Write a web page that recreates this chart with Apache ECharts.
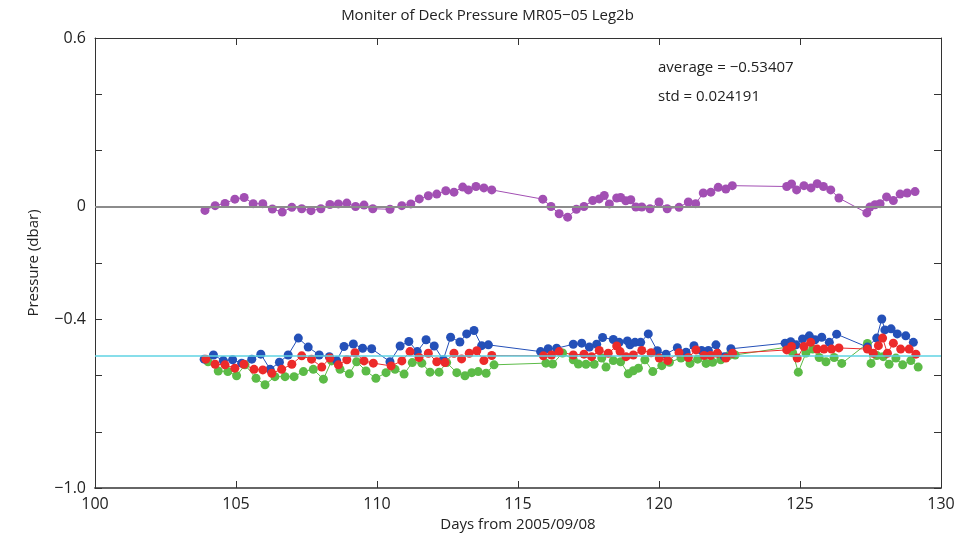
<!DOCTYPE html>
<html>
<head>
<meta charset="utf-8">
<script src="https://cdn.jsdelivr.net/npm/echarts@6/dist/echarts.min.js"></script>
<style>
  html, body { margin: 0; padding: 0; background: #fff; }
  #charts { width: 975px; height: 543px; }
</style>
</head>
<body>
<div id="charts"></div>
<script>
// deck pressure series, days from 2005/09/08
const purpleDays = [103.90,104.26,104.61,104.96,105.29,105.61,105.95,106.29,106.64,106.98,107.33,107.66,108.01,108.33,108.63,108.93,109.24,109.54,109.85,110.46,110.88,111.20,111.50,111.82,112.12,112.44,112.73,113.04,113.24,113.51,113.79,114.07,115.88,116.17,116.46,116.76,117.07,117.34,117.65,117.88,118.06,118.24,118.50,118.64,118.82,119.00,119.18,119.39,119.68,120.00,120.29,120.71,121.04,121.30,121.57,121.84,122.10,122.37,122.60,124.53,124.70,124.88,125.14,125.39,125.61,125.83,126.09,126.38,127.37,127.48,127.66,127.84,128.07,128.31,128.55,128.80,129.08]
const purpleVals = [-0.013,0.004,0.012,0.027,0.033,0.011,0.011,-0.008,-0.019,-0.002,-0.007,-0.014,-0.007,0.008,0.010,0.013,0.001,0.006,-0.007,-0.009,0.004,0.010,0.028,0.039,0.045,0.057,0.052,0.070,0.060,0.072,0.067,0.060,0.027,0.001,-0.025,-0.037,-0.009,0.001,0.022,0.028,0.040,0.010,0.031,0.033,0.021,0.025,-0.001,-0.001,-0.007,0.017,-0.007,-0.002,0.017,0.011,0.049,0.052,0.069,0.063,0.075,0.072,0.081,0.060,0.075,0.067,0.082,0.072,0.060,0.031,-0.022,-0.001,0.007,0.011,0.035,0.022,0.045,0.049,0.054]

const blueDays = [103.87,104.20,104.55,104.88,105.20,105.56,105.88,106.21,106.54,106.85,107.21,107.56,107.95,108.31,108.57,108.83,109.16,109.49,109.81,110.46,110.82,111.13,111.43,111.74,112.03,112.35,112.61,112.94,113.18,113.44,113.71,113.95,115.80,116.07,116.37,116.96,117.26,117.53,117.79,118.00,118.38,118.59,118.88,118.97,119.15,119.35,119.62,119.94,120.25,120.65,120.96,121.24,121.51,121.75,122.02,122.32,122.55,124.47,124.67,124.86,125.09,125.33,125.53,125.77,126.04,126.30,127.39,127.72,127.90,128.01,128.23,128.45,128.75,129.02]
const blueVals = [-0.542,-0.527,-0.547,-0.544,-0.556,-0.542,-0.524,-0.578,-0.553,-0.527,-0.467,-0.499,-0.527,-0.533,-0.547,-0.497,-0.488,-0.503,-0.505,-0.551,-0.495,-0.479,-0.515,-0.473,-0.495,-0.544,-0.464,-0.481,-0.452,-0.440,-0.494,-0.491,-0.515,-0.505,-0.503,-0.489,-0.485,-0.499,-0.489,-0.465,-0.472,-0.482,-0.477,-0.491,-0.482,-0.482,-0.452,-0.512,-0.524,-0.501,-0.517,-0.494,-0.511,-0.511,-0.491,-0.533,-0.505,-0.485,-0.480,-0.491,-0.470,-0.459,-0.473,-0.464,-0.482,-0.453,-0.499,-0.467,-0.399,-0.438,-0.434,-0.452,-0.459,-0.482]

const redDays = [103.93,104.26,104.61,104.96,105.28,105.64,105.95,106.27,106.62,106.98,107.33,107.68,108.04,108.33,108.63,108.93,109.22,109.54,109.87,110.50,110.88,111.17,111.49,111.82,112.12,112.41,112.73,113.00,113.27,113.54,113.79,114.07,115.90,116.19,116.46,116.96,117.34,117.61,117.88,118.20,118.50,118.62,118.83,119.09,119.39,119.72,120.01,120.31,120.71,121.04,121.31,121.60,121.83,122.07,122.37,122.61,124.53,124.70,124.90,125.14,125.38,125.61,125.85,126.12,126.38,127.39,127.60,127.78,127.93,128.10,128.31,128.57,128.87,129.11]
const redVals = [-0.542,-0.560,-0.562,-0.574,-0.560,-0.578,-0.580,-0.592,-0.578,-0.560,-0.530,-0.542,-0.570,-0.538,-0.562,-0.544,-0.519,-0.548,-0.556,-0.566,-0.548,-0.515,-0.536,-0.521,-0.551,-0.554,-0.521,-0.541,-0.521,-0.512,-0.547,-0.529,-0.530,-0.527,-0.515,-0.527,-0.524,-0.533,-0.511,-0.521,-0.495,-0.515,-0.533,-0.527,-0.511,-0.519,-0.538,-0.547,-0.519,-0.536,-0.509,-0.529,-0.529,-0.521,-0.538,-0.521,-0.509,-0.497,-0.538,-0.497,-0.482,-0.506,-0.506,-0.506,-0.502,-0.506,-0.521,-0.494,-0.467,-0.521,-0.485,-0.506,-0.506,-0.524]

const greenDays = [104.01,104.37,104.71,105.02,105.32,105.71,106.03,106.38,106.74,107.06,107.39,107.74,108.10,108.39,108.69,109.02,109.28,109.61,109.96,110.32,110.64,110.96,111.25,111.59,111.88,112.20,112.47,112.83,113.12,113.36,113.59,113.87,114.15,115.99,116.23,116.58,116.96,117.14,117.41,117.70,117.97,118.12,118.38,118.64,118.91,119.09,119.27,119.50,119.78,120.10,120.37,120.78,121.10,121.37,121.67,121.90,122.19,122.46,122.70,124.56,124.74,124.94,125.21,125.45,125.68,125.92,126.21,126.48,127.39,127.52,127.72,127.95,128.16,128.40,128.64,128.93,129.19]
const greenVals = [-0.551,-0.584,-0.586,-0.601,-0.562,-0.610,-0.633,-0.604,-0.604,-0.604,-0.586,-0.578,-0.613,-0.548,-0.578,-0.594,-0.551,-0.584,-0.610,-0.590,-0.578,-0.595,-0.554,-0.556,-0.588,-0.588,-0.554,-0.590,-0.601,-0.590,-0.586,-0.592,-0.562,-0.556,-0.559,-0.520,-0.544,-0.559,-0.560,-0.560,-0.538,-0.570,-0.547,-0.551,-0.594,-0.583,-0.574,-0.544,-0.586,-0.565,-0.553,-0.538,-0.557,-0.542,-0.557,-0.553,-0.544,-0.530,-0.527,-0.499,-0.519,-0.588,-0.520,-0.506,-0.536,-0.551,-0.536,-0.557,-0.486,-0.557,-0.529,-0.533,-0.560,-0.538,-0.562,-0.547,-0.570]

const xTicks = [100, 105, 110, 115, 120, 125, 130]
const yLabelled = [0.6, 0, -0.4, -1.0]
const average = -0.53407
const std = 0.024191

const font = "'Liberation Sans Narrow', 'Open Sans', sans-serif"
const pairs = (d, v) => d.map((x, i) => [x, v[i]])
const fmtY = v => {
  const hit = yLabelled.find(t => Math.abs(t - v) < 1e-6)
  if (hit === undefined) return ''
  if (hit === 0) return '0'
  return hit.toFixed(1).replace('-', '\u2212')
}

const dotSeries = (name, d, v, color, extra) => Object.assign({
  name, type: 'line', data: pairs(d, v),
  symbol: 'circle', symbolSize: 9, showSymbol: true,
  itemStyle: { color },
  lineStyle: { color, width: 1 },
  animation: false
}, extra || {})

const axisLine = { show: true, onZero: false, lineStyle: { color: '#333', width: 1 } }
const ticksIn = { show: true, inside: true, length: 7, lineStyle: { color: '#333' } }

const myCharts = echarts.init(document.getElementById('charts'))
myCharts.setOption({
  animation: false,
  title: {
    text: 'Moniter of Deck Pressure MR05\u221205 Leg2b',
    left: 'center', top: 3,
    textStyle: { fontFamily: font, fontSize: 15, fontWeight: 'normal', color: '#222' }
  },
  grid: { left: 95, right: 34, top: 38, bottom: 55 },
  xAxis: [{
    type: 'value', min: 100, max: 130, interval: 5,
    name: 'Days from 2005/09/08', nameLocation: 'middle', nameGap: 29,
    nameTextStyle: { fontFamily: font, fontSize: 15, color: '#222' },
    axisLine: { show: true, onZero: false, lineStyle: { color: '#666', width: 2 } }, axisTick: ticksIn,
    axisLabel: { fontFamily: font, fontSize: 16, color: '#222', margin: 8,
      formatter: v => xTicks.includes(v) ? String(v) : '' },
    splitLine: { show: false }
  }, {
    type: 'value', position: 'top', min: 100, max: 130, interval: 5,
    axisLine, axisTick: ticksIn, axisLabel: { show: false }, splitLine: { show: false }
  }],
  yAxis: [{
    type: 'value', min: -1.0, max: 0.6, interval: 0.2,
    name: 'Pressure (dbar)', nameLocation: 'middle', nameGap: 54,
    nameTextStyle: { fontFamily: font, fontSize: 15, color: '#222' },
    axisLine, axisTick: ticksIn,
    axisLabel: { fontFamily: font, fontSize: 16, color: '#222', margin: 9, formatter: fmtY },
    splitLine: { show: false }
  }, {
    type: 'value', position: 'right', min: -1.0, max: 0.6, interval: 0.2,
    axisLine, axisTick: ticksIn, axisLabel: { show: false }, splitLine: { show: false }
  }],
  graphic: [
    { type: 'text', left: 658, top: 60,
      style: { text: 'average = \u22120.53407', font: '15px ' + font, fill: '#222' } },
    { type: 'text', left: 658, top: 89,
      style: { text: 'std = ' + std, font: '15px ' + font, fill: '#222' } }
  ],
  series: [
    dotSeries('zero', purpleDays, purpleVals, '#a24fb3', {
      markLine: {
        silent: true, symbol: 'none', label: { show: false },
        data: [
          { yAxis: 0, lineStyle: { color: '#8c8c8c', width: 2, type: 'solid' } },
          { yAxis: average, lineStyle: { color: '#5fd3e3', width: 1.5, type: 'solid' } }
        ]
      }
    }),
    dotSeries('green', greenDays, greenVals, '#5cbb47'),
    dotSeries('blue', blueDays, blueVals, '#2450b8'),
    dotSeries('red', redDays, redVals, '#ec2a2a')
  ]
})
</script>
</body>
</html>
